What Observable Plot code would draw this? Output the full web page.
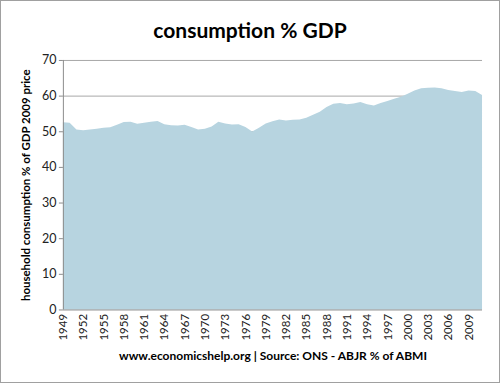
<!DOCTYPE html>
<html><head><meta charset="utf-8">
<script src="https://cdn.jsdelivr.net/npm/d3@7"></script>
<script src="https://cdn.jsdelivr.net/npm/@observablehq/plot@0.6"></script>
<style>
body{margin:0;background:#fff;}
#frame{position:relative;width:498px;height:381px;border:1px solid #a0a0a0;overflow:hidden;font-family:Lato,"Open Sans",sans-serif;background:#fff;}
#title{position:absolute;left:-1px;top:15px;width:500px;text-align:center;font-weight:bold;font-size:21px;line-height:28px;color:#000;}
#chart{position:absolute;left:-1px;top:44px;}
#caption{position:absolute;left:62px;top:346px;width:420px;text-align:center;font-weight:bold;font-size:12px;line-height:18px;color:#000;}
</style>
</head><body>
<div id="frame">
  <div id="title">consumption % GDP</div>
  <div id="chart"></div>
  <div id="caption">www.economicshelp.org | Source: ONS - ABJR % of ABMI</div>
</div>
<script>
const years = d3.range(1949, 2012);
const values = [
  52.5, 52.4, 50.5, 50.3, 50.5, 50.7, 51.0, 51.1, 51.8, 52.6,
  52.7, 52.1, 52.4, 52.7, 52.9, 52.0, 51.7, 51.6, 51.8, 51.2,
  50.5, 50.7, 51.3, 52.7, 52.2, 51.9, 52.0, 51.2, 49.9, 51.0,
  52.2, 52.8, 53.3, 53.0, 53.2, 53.3, 53.8, 54.6, 55.5, 56.8,
  57.7, 57.9, 57.6, 57.8, 58.2, 57.6, 57.2, 57.9, 58.5, 59.1,
  59.7, 60.5, 61.4, 62.1, 62.2, 62.3, 62.1, 61.6, 61.3, 61.0,
  61.4, 61.3, 60.2
];
const xTicks = d3.range(1949, 2010, 3);
const yTicks = d3.range(0, 71, 10);
const yLabel = "household consumption % of GDP 2009 price";

const data = years.map((year, i) => ({year, value: values[i]}));

const chart = Plot.plot({
  width: 500,
  height: 302,
  marginTop: 15,
  marginBottom: 37,
  marginLeft: 63,
  marginRight: 17,
  style: {fontFamily: "Lato, 'Open Sans', sans-serif", color: "#222", background: "transparent", overflow: "visible"},
  x: {type: "linear", domain: [1949, 2011]},
  y: {domain: [0, 70]},
  marks: [
    Plot.gridY(yTicks.slice(1), {stroke: "#a8a8a8", strokeOpacity: 1}),
    Plot.areaY(data, {x: "year", y: "value", fill: "#b7d4e0"}),
    Plot.ruleY([0], {stroke: "#8c8c8c"}),
    Plot.ruleX([1949], {stroke: "#8c8c8c"}),
    Plot.axisY({ticks: yTicks, tickSize: 4, tickPadding: 3, fontSize: 12.5, stroke: "#8c8c8c", label: null}),
    Plot.axisX({ticks: xTicks, tickSize: 0, tickPadding: 4, tickRotate: -90, fontSize: 11.5, tickFormat: d => String(d), label: null}),
    Plot.text([yLabel], {frameAnchor: "left", textAnchor: "middle", rotate: -90, dx: -37, fontWeight: "bold", fontSize: 11.5, fill: "#000"})
  ]
});
document.getElementById("chart").appendChild(chart);
</script>
</body></html>
